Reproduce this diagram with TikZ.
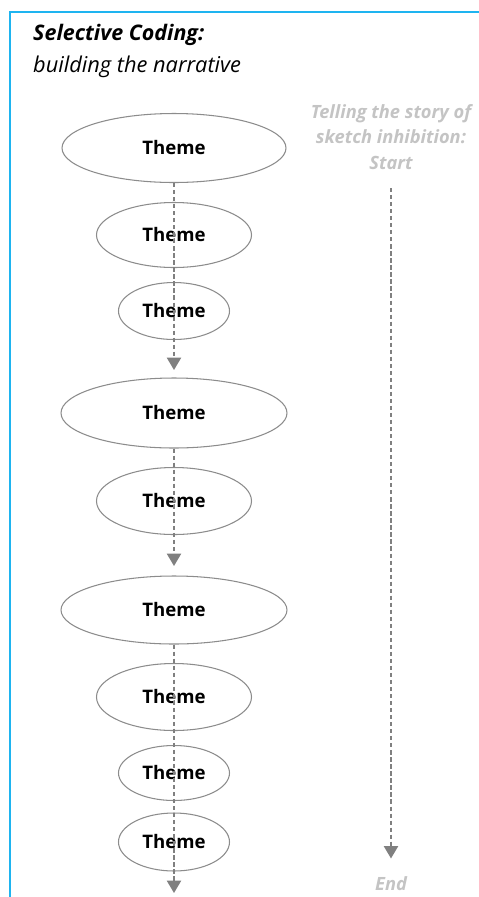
\documentclass[tikz,border=0pt]{standalone}
\usepackage{fontspec}
\setmainfont{Open Sans}
\usetikzlibrary{arrows.meta,shapes.geometric}
\definecolor{framecol}{HTML}{1EB4F0}
\definecolor{flowcol}{HTML}{808080}
\definecolor{rimcol}{HTML}{8C8C8C}
\definecolor{storycol}{HTML}{C4C4C4}

\begin{document}
\begin{tikzpicture}[
    x=0.02cm, y=-0.02cm,
    theme/.style={ellipse, draw=rimcol, line width=0.6pt, inner sep=0pt,
        font=\bfseries\fontsize{10.6}{12}\selectfont},
    flow/.style={flowcol, line width=1pt, dash pattern=on 2.4pt off 1.6pt,
        -{Triangle[width=8pt, length=7pt]}},
    story/.style={font=\bfseries\itshape\fontsize{10.4}{14.5}\selectfont,
        text=storycol, align=center},
]
\useasboundingbox[fill=white] (0,0) rectangle (479,897);

% Frame
\draw[framecol, line width=1.3pt] (479,12) -- (10,12) -- (10,897);

% Heading
\node[anchor=west, font=\bfseries\itshape\fontsize{12.2}{14}\selectfont]
    (title) at (27,35) {Selective Coding:};
\node[anchor=west, font=\itshape\fontsize{12.4}{14}\selectfont]
    (subtitle) at (27,67) {building the narrative};

% Themes -- name/y/width/height
\foreach \n/\y/\w/\h in {
    t1/148/224/69, t2/235/155/65, t3/311/111/57,
    t4/413/226/70, t5/501/155/67,
    t6/610/226/68, t7/697/155/67, t8/773/111/55, t9/842/111/58} {
    \node[theme, minimum width=\w*0.02cm, minimum height=\h*0.02cm]
        (\n) at (174,\y) {Theme};
}

% Flow through the themes
\coordinate (a1) at (174,370);
\coordinate (a2) at (174,566);
\coordinate (a3) at (174,893);
\draw[flow] (t1.south) -- (a1);
\draw[flow] (t4.south) -- (a2);
\draw[flow] (t6.south) -- (a3);

% Story line
\node[story] (story) at (391,137) {Telling the story of\\sketch inhibition:\\Start};
\node[story] (end) at (391,884) {End};
\draw[flow, shorten <=7pt, shorten >=7pt] (story.south) -- (end.north);

\end{tikzpicture}
\end{document}
